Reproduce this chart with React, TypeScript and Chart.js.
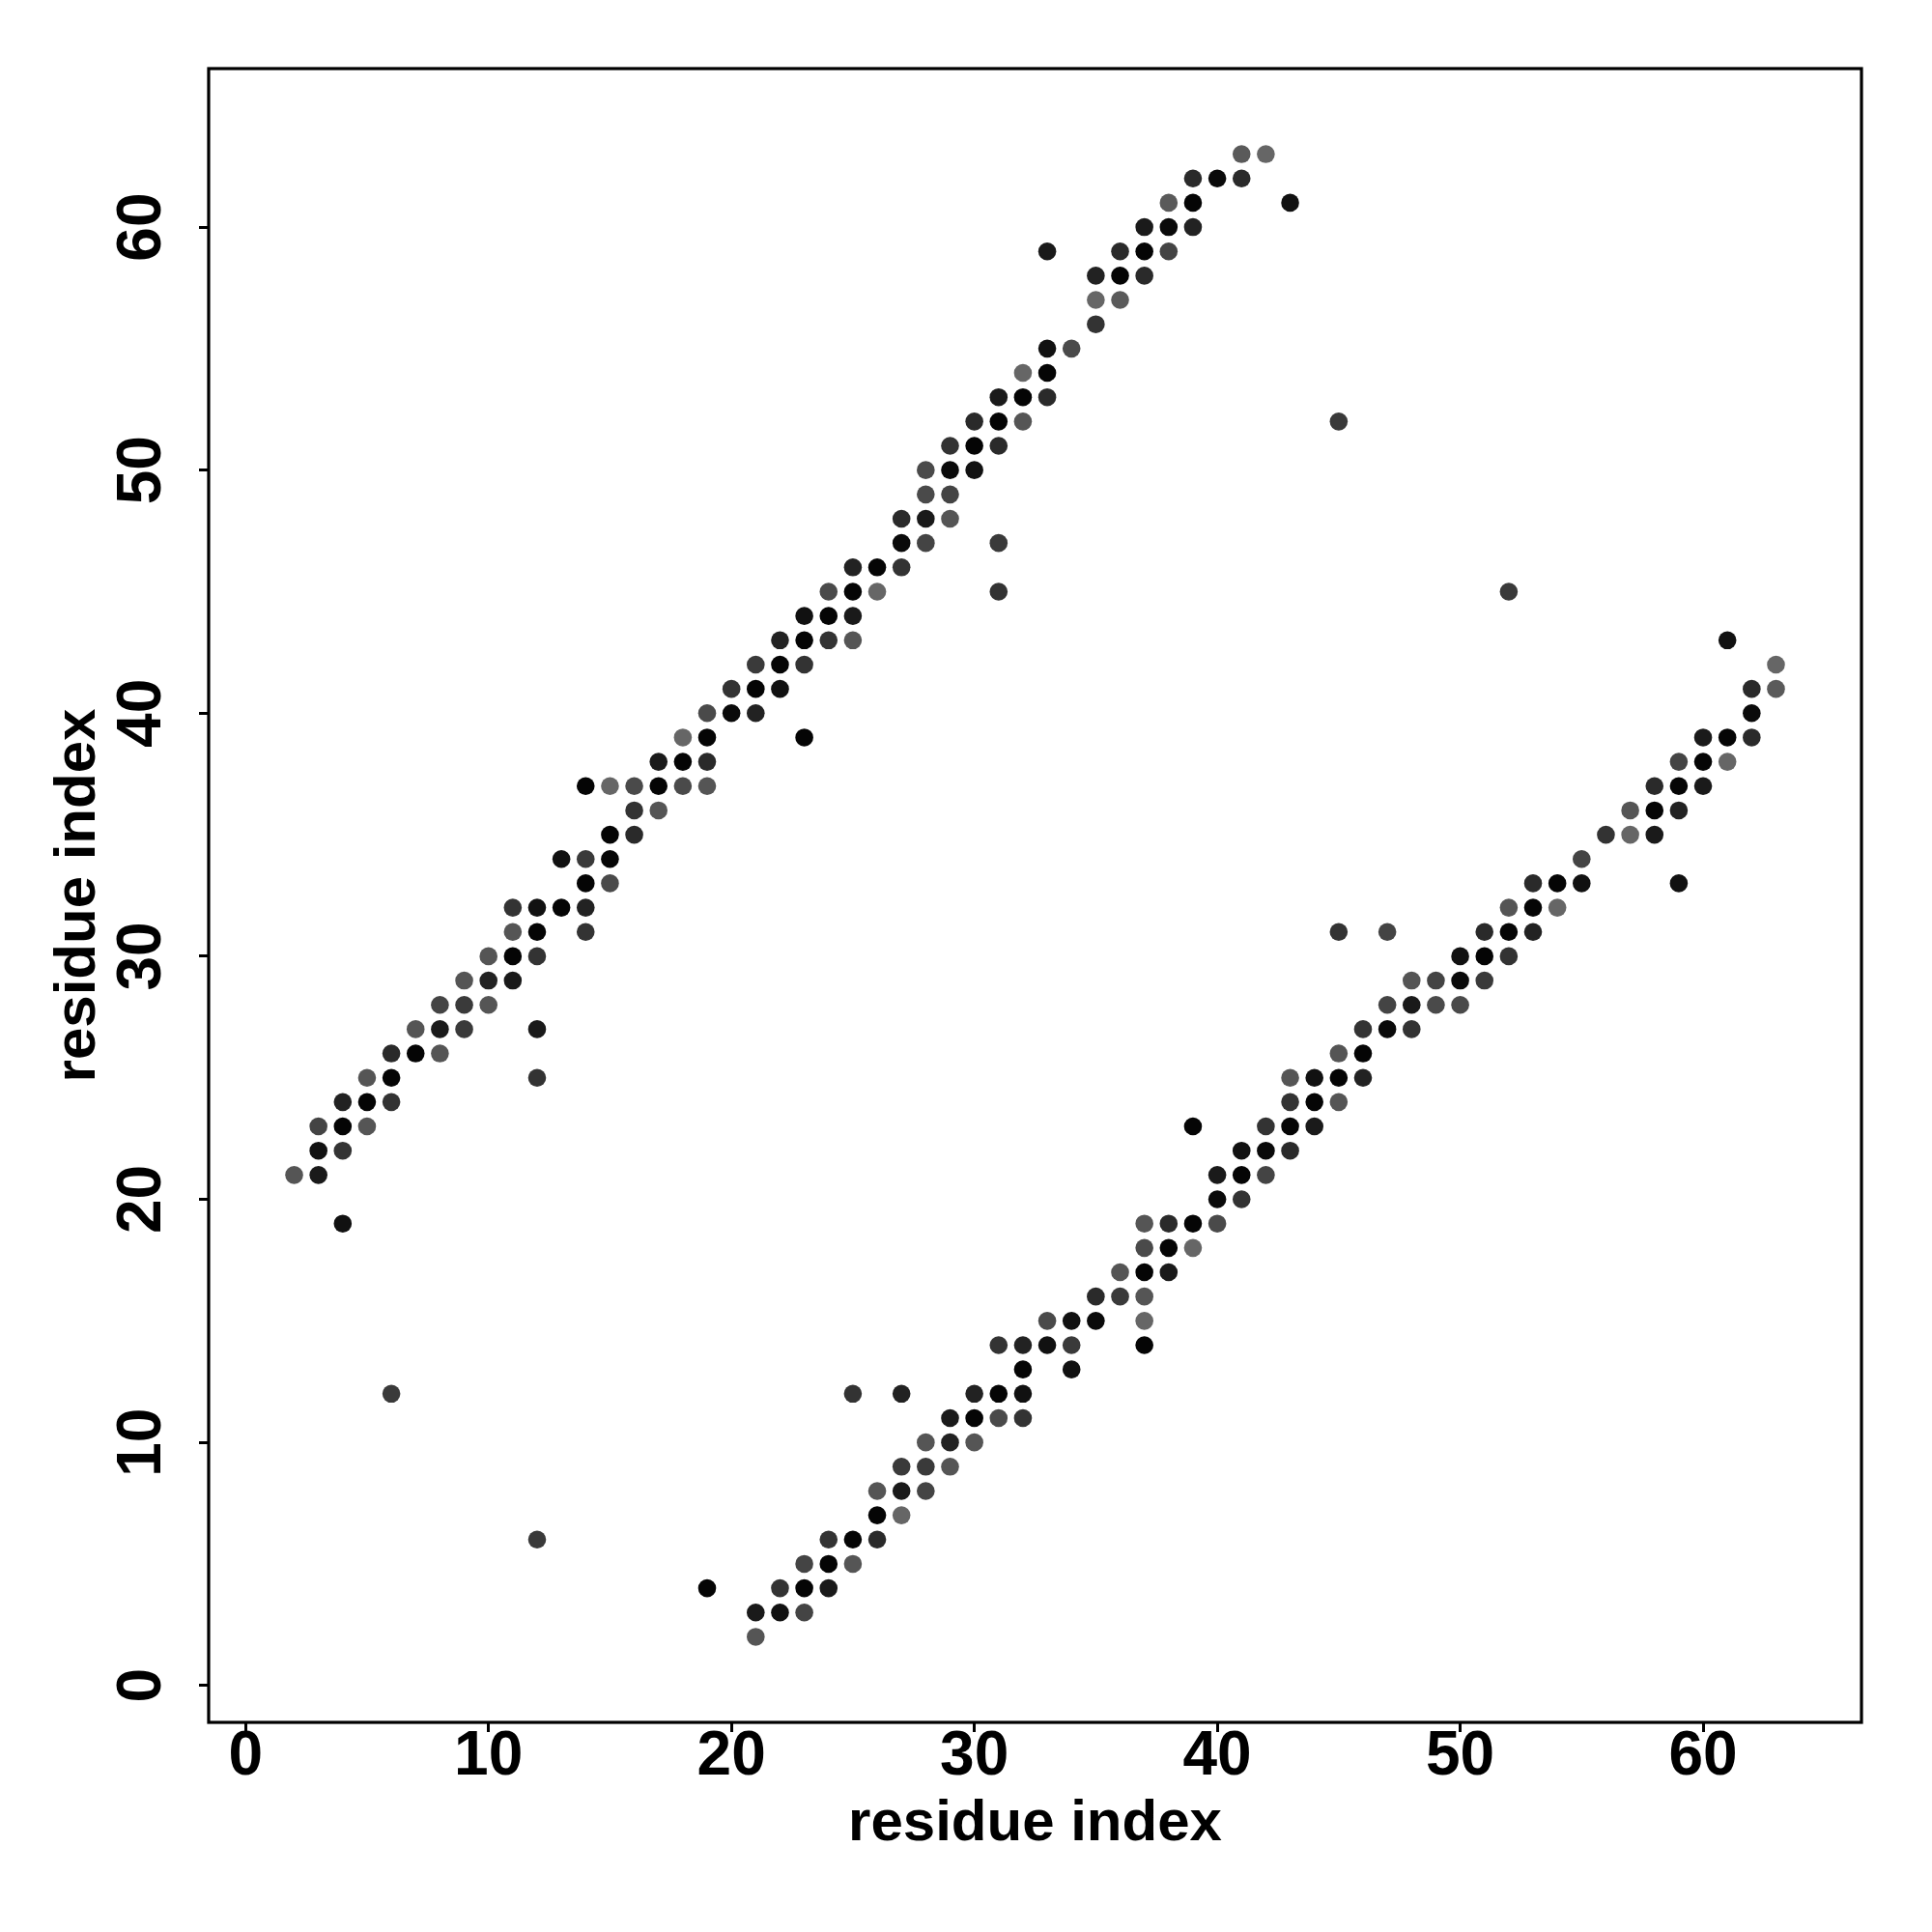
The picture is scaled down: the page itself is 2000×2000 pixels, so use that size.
import React, { useEffect, useRef } from "react";
import { Chart, registerables } from "chart.js";

Chart.register(...registerables);

// Contact map: residue i (x) vs residue j (y), grey level of each dot (0 = black)
const upperX = [
  4,
  2, 3,
  3, 4,
  3, 4, 5,
  4, 5, 6,
  5, 6, 12,
  6, 7, 8,
  7, 8, 9, 12,
  8, 9, 10,
  9, 10, 11,
  10, 11, 12,
  11, 12, 14,
  11, 12, 13, 14,
  14, 15,
  13, 14, 15,
  15, 16,
  16, 17,
  14, 15, 16, 17, 18, 19,
  17, 18, 19,
  18, 19, 23,
  19, 20, 21,
  20, 21, 22,
  21, 22, 23,
  22, 23, 24, 25,
  23, 24, 25,
  24, 25, 26, 31,
  25, 26, 27,
  27, 28, 31,
  27, 28, 29,
  28, 29,
  28, 29, 30,
  29, 30, 31,
  30, 31, 32,
  31, 32, 33,
  32, 33,
  33, 34,
  35,
  35, 36,
  35, 36, 37,
  33, 36, 37, 38,
  37, 38, 39,
  38, 39, 43,
  39, 40, 41,
  41, 42,
];
const upperY = [
  19,
  21, 21,
  22, 22,
  23, 23, 23,
  24, 24, 24,
  25, 25, 25,
  26, 26, 26,
  27, 27, 27, 27,
  28, 28, 28,
  29, 29, 29,
  30, 30, 30,
  31, 31, 31,
  32, 32, 32, 32,
  33, 33,
  34, 34, 34,
  35, 35,
  36, 36,
  37, 37, 37, 37, 37, 37,
  38, 38, 38,
  39, 39, 39,
  40, 40, 40,
  41, 41, 41,
  42, 42, 42,
  43, 43, 43, 43,
  44, 44, 44,
  45, 45, 45, 45,
  46, 46, 46,
  47, 47, 47,
  48, 48, 48,
  49, 49,
  50, 50, 50,
  51, 51, 51,
  52, 52, 52,
  53, 53, 53,
  54, 54,
  55, 55,
  56,
  57, 57,
  58, 58, 58,
  59, 59, 59, 59,
  60, 60, 60,
  61, 61, 61,
  62, 62, 62,
  63, 63,
];
const upperGrey = [
  17,
  85, 26,
  17, 51,
  68, 5, 85,
  34, 5, 51,
  85, 5, 51,
  42, 5, 85,
  85, 26, 58, 26,
  68, 58, 85,
  85, 34, 26,
  85, 5, 51,
  85, 5, 51,
  51, 17, 5, 34,
  5, 74,
  17, 58, 5,
  5, 42,
  51, 85,
  5, 102, 74, 5, 74, 85,
  26, 5, 42,
  102, 5, 5,
  74, 10, 34,
  51, 5, 17,
  58, 5, 51,
  34, 5, 51, 85,
  17, 5, 26,
  74, 5, 102, 51,
  34, 5, 51,
  10, 68, 58,
  42, 26, 85,
  74, 68,
  74, 10, 17,
  51, 5, 42,
  42, 5, 85,
  26, 5, 42,
  102, 5,
  17, 74,
  51,
  102, 90,
  34, 5, 42,
  26, 42, 5, 68,
  26, 10, 34,
  90, 5, 17,
  42, 10, 42,
  90, 102,
];

const lowerX = [
  21,
  21, 22, 23,
  19, 22, 23, 24,
  23, 24, 25,
  12, 24, 25, 26,
  26, 27,
  26, 27, 28,
  27, 28, 29,
  28, 29, 30,
  29, 30, 31, 32,
  6, 25, 27, 30, 31, 32,
  32, 34,
  31, 32, 33, 34, 37,
  33, 34, 35, 37,
  35, 36, 37,
  36, 37, 38,
  37, 38, 39,
  37, 38, 39, 40,
  40, 41,
  40, 41, 42,
  41, 42, 43,
  39, 42, 43, 44,
  43, 44, 45,
  43, 44, 45, 46,
  45, 46,
  46, 47, 48,
  47, 48, 49, 50,
  48, 49, 50, 51,
  50, 51, 52,
  45, 47, 51, 52, 53,
  52, 53, 54,
  53, 54, 55, 59,
  55,
  56, 57, 58,
  57, 58, 59,
  58, 59, 60,
  59, 60, 61,
  60, 61, 62,
  62,
  62, 63,
  63,
  61,
  52,
  45,
];
const lowerY = [
  2,
  3, 3, 3,
  4, 4, 4, 4,
  5, 5, 5,
  6, 6, 6, 6,
  7, 7,
  8, 8, 8,
  9, 9, 9,
  10, 10, 10,
  11, 11, 11, 11,
  12, 12, 12, 12, 12, 12,
  13, 13,
  14, 14, 14, 14, 14,
  15, 15, 15, 15,
  16, 16, 16,
  17, 17, 17,
  18, 18, 18,
  19, 19, 19, 19,
  20, 20,
  21, 21, 21,
  22, 22, 22,
  23, 23, 23, 23,
  24, 24, 24,
  25, 25, 25, 25,
  26, 26,
  27, 27, 27,
  28, 28, 28, 28,
  29, 29, 29, 29,
  30, 30, 30,
  31, 31, 31, 31, 31,
  32, 32, 32,
  33, 33, 33, 33,
  34,
  35, 35, 35,
  36, 36, 36,
  37, 37, 37,
  38, 38, 38,
  39, 39, 39,
  40,
  41, 41,
  42,
  43,
  45,
  52,
];
const lowerGrey = [
  85,
  26, 17, 68,
  5, 51, 5, 26,
  68, 5, 85,
  58, 51, 5, 42,
  5, 102,
  85, 26, 68,
  58, 58, 85,
  85, 34, 85,
  26, 5, 74, 51,
  58, 51, 34, 34, 5, 17,
  5, 17,
  51, 34, 17, 58, 5,
  74, 17, 10, 102,
  42, 58, 85,
  85, 5, 26,
  74, 5, 102,
  85, 42, 5, 74,
  10, 51,
  26, 5, 68,
  17, 10, 42,
  5, 51, 5, 26,
  51, 5, 85,
  85, 17, 5, 34,
  85, 5,
  51, 10, 51,
  68, 26, 74, 74,
  85, 68, 10, 58,
  17, 5, 51,
  51, 68, 42, 5, 34,
  85, 5, 102,
  42, 5, 17, 17,
  68,
  51, 102, 26,
  85, 5, 34,
  42, 5, 26,
  68, 5, 102,
  26, 5, 42,
  10,
  42, 90,
  102,
  17,
  58,
  58,
];

const tickValues = [0, 10, 20, 30, 40, 50, 60];
const axisMin = -1.52;
const axisMax = 66.52;
const xTitle = "residue index";
const yTitle = "residue index";

const FONT = '"Liberation Sans", Arial, Helvetica, sans-serif';

export default function App() {
  const ref = useRef<HTMLCanvasElement>(null);

  useEffect(() => {
    document.body.style.margin = "0";
    document.body.style.overflow = "hidden";
    const canvas = ref.current;
    if (!canvas) return;

    const toPts = (xs: number[], ys: number[]) => xs.map((x, i) => ({ x, y: ys[i] }));
    const grey = (g: number) => `rgb(${g},${g},${g})`;

    const frame = {
      id: "frame",
      afterDraw(chart: any) {
        const { ctx, chartArea: a } = chart;
        ctx.save();
        ctx.strokeStyle = "#000";
        ctx.lineWidth = 3.2;
        ctx.strokeRect(a.left, a.top, a.right - a.left, a.bottom - a.top);
        ctx.restore();
      },
    };

    const pointOpts = {
      pointRadius: 9.3,
      pointHoverRadius: 9.3,
      pointBorderWidth: 0,
      pointStyle: "circle" as const,
    };

    const tickFont = { family: FONT, size: 64, weight: "bold" as const, lineHeight: 1 };
    const titleFont = { family: FONT, size: 60, weight: "bold" as const, lineHeight: 1 };
    const gridOpts = {
      display: true,
      drawOnChartArea: false,
      drawTicks: true,
      tickLength: 10,
      tickWidth: 3,
      tickColor: "#000",
    };

    const chart = new Chart(canvas, {
      type: "scatter",
      data: {
        datasets: [
          {
            data: toPts(upperX, upperY),
            backgroundColor: upperGrey.map(grey),
            borderColor: upperGrey.map(grey),
            ...pointOpts,
          },
          {
            data: toPts(lowerX, lowerY),
            backgroundColor: lowerGrey.map(grey),
            borderColor: lowerGrey.map(grey),
            ...pointOpts,
          },
        ],
      },
      options: {
        responsive: false,
        animation: false,
        events: [],
        layout: { padding: { top: 71, right: 73, bottom: 0, left: 0 } },
        plugins: {
          legend: { display: false },
          tooltip: { enabled: false },
        },
        scales: {
          x: {
            type: "linear",
            min: axisMin,
            max: axisMax,
            afterBuildTicks: (s: any) => {
              s.ticks = tickValues.map((v) => ({ value: v }));
            },
            afterFit: (s: any) => {
              s.height = 217;
            },
            border: { display: false },
            grid: gridOpts,
            ticks: {
              color: "#000",
              font: tickFont,
              padding: -6,
              maxRotation: 0,
              minRotation: 0,
              autoSkip: false,
            },
            title: {
              display: true,
              text: xTitle,
              color: "#000",
              font: titleFont,
              padding: { top: 0, bottom: 82 },
            },
          },
          y: {
            type: "linear",
            min: axisMin,
            max: axisMax,
            afterBuildTicks: (s: any) => {
              s.ticks = tickValues.map((v) => ({ value: v }));
            },
            afterFit: (s: any) => {
              s.width = 216;
            },
            border: { display: false },
            grid: gridOpts,
            ticks: {
              color: "#000",
              font: tickFont,
              padding: 22,
              minRotation: 90,
              maxRotation: 90,
              crossAlign: "center",
              autoSkip: false,
            },
            title: {
              display: true,
              text: yTitle,
              color: "#000",
              font: titleFont,
              padding: { top: 51, bottom: 0 },
            },
          },
        },
      },
      plugins: [frame],
    } as any);

    return () => chart.destroy();
  }, []);

  return (
    <canvas
      ref={ref}
      width={2000}
      height={2000}
      style={{ display: "block", width: 2000, height: 2000 }}
    />
  );
}
